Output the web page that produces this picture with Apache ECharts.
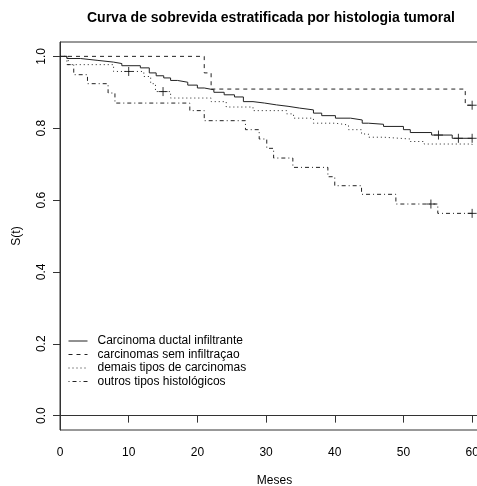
<!DOCTYPE html>
<html>
<head>
<meta charset="utf-8">
<script src="https://cdn.jsdelivr.net/npm/echarts@6/dist/echarts.min.js"></script>
<style>
html,body{margin:0;padding:0;background:#fff;}
#chart{width:477px;height:486px;}
</style>
</head>
<body>
<div id="chart"></div>
<script>
var chartTitle = "Curva de sobrevida estratificada por histologia tumoral";
var groupNames = ["Carcinoma ductal infiltrante", "carcinomas sem infiltraçao", "demais tipos de carcinomas", "outros tipos histológicos"];
var xTicks = [0, 10, 20, 30, 40, 50, 60];
var yTicks = [0, 0.2, 0.4, 0.6, 0.8, 1.0];

var ductalT = [0,1,3,5.4,7.8,9,11.7,13,14,15.1,16.1,17.1,18.6,20,21,22.4,23.9,25.4,26.7,28.1,29.8,31.5,33.2,34.9,36.9,38.1,40.1,42.3,44,44.9,47.1,50,51,54.1,57.1,60];
var ductalS = [1,0.994,0.989,0.984,0.980,0.974,0.968,0.954,0.946,0.940,0.933,0.928,0.920,0.912,0.907,0.900,0.893,0.887,0.874,0.870,0.865,0.861,0.856,0.851,0.842,0.835,0.828,0.823,0.814,0.811,0.805,0.796,0.788,0.781,0.772,0.772];

var semT = [0,21,22,59,60];
var semS = [1,0.954,0.909,0.864,0.864];

var demaisT = [0,1.2,7.8,12.2,13.2,13.9,16.1,22,24.2,28.1,33,34,36.9,40.1,42,43.9,44.9,47.1,51,53,60];
var demaisS = [1,0.977,0.958,0.944,0.924,0.902,0.884,0.874,0.859,0.849,0.840,0.828,0.814,0.809,0.796,0.784,0.775,0.770,0.763,0.756,0.751];

var outrosT = [0,1,2,4,7,8,18.9,21,27,29,30.1,31.1,33.9,39,40,43.9,48.9,55,60];
var outrosS = [1,0.977,0.949,0.924,0.898,0.870,0.849,0.821,0.796,0.770,0.744,0.717,0.691,0.665,0.640,0.616,0.589,0.563,0.563];

var censorT = [[55.1,58,60],[60],[10,15],[54,60]];
var censorS = [[0.781,0.772,0.772],[0.864],[0.958,0.902],[0.589,0.563]];

var dashTypes = ['solid', [4,4], [1,3], [1,3,4,3]];
var allT = [ductalT, semT, demaisT, outrosT];
var allS = [ductalS, semS, demaisS, outrosS];

function zip(a, b){ return a.map(function(v,i){ return [v, b[i]]; }); }

var FONT = "'Liberation Sans', Arial, sans-serif";
var series = [];
groupNames.forEach(function(n, i){
  series.push({
    name: n, type: 'line', step: 'end', showSymbol: false, symbol: 'none',
    data: zip(allT[i], allS[i]), animation: false,
    lineStyle: {color: '#222', width: 1, type: dashTypes[i]},
    itemStyle: {color: '#222'}
  });
});
censorT.forEach(function(ts, i){
  series.push({
    name: 'censor' + i, type: 'scatter', data: zip(ts, censorS[i]), animation: false,
    symbol: 'path://M0,5L10,5M5,0L5,10', symbolSize: 9,
    itemStyle: {color: 'none', borderColor: '#000', borderWidth: 1}
  });
});

var chart = echarts.init(document.getElementById('chart'), null, {renderer: 'canvas'});
chart.setOption({
  backgroundColor: '#fff',
  animation: false,
  title: {
    text: chartTitle, left: 266, textAlign: 'center', top: 6,
    textStyle: {fontFamily: FONT, fontSize: 14, fontWeight: 'bold', color: '#000'}
  },
  grid: {left: 60, top: 42, right: -2, bottom: 56, show: true, borderColor: '#333', borderWidth: 1,
    outerBoundsMode: 'none', containLabel: false},
  legend: {
    data: groupNames, orient: 'vertical', left: 63, top: 330, itemGap: 1.5,
    itemWidth: 19, itemHeight: 12,
    itemStyle: {opacity: 0},
    lineStyle: {inherit: true, width: 1},
    textStyle: {fontFamily: FONT, fontSize: 12, color: '#000', padding: [0,0,0,5]},
    selectedMode: false
  },
  xAxis: {
    type: 'value', min: 0, max: 61,
    name: 'Meses', nameLocation: 'middle', nameGap: 45,
    nameTextStyle: {fontFamily: FONT, fontSize: 12, color: '#000', padding: [0,0,0,10]},
    axisLine: {show: true, lineStyle: {color: '#333'}},
    axisTick: {show: true, length: 7, customValues: xTicks, lineStyle: {color: '#333'}},
    axisLabel: {customValues: xTicks, margin: 17, fontFamily: FONT, fontSize: 12, color: '#000'},
    splitLine: {show: false}
  },
  yAxis: {
    type: 'value', min: -0.04, max: 1.04,
    name: 'S(t)', nameLocation: 'middle', nameGap: 37, nameRotate: 90,
    nameTextStyle: {fontFamily: FONT, fontSize: 12, color: '#000'},
    axisLine: {show: true, onZero: false, lineStyle: {color: '#333'}},
    axisTick: {show: true, length: 7, customValues: yTicks, lineStyle: {color: '#333'}},
    axisLabel: {customValues: yTicks, rotate: 90, margin: 12, fontFamily: FONT, fontSize: 12, color: '#000',
      formatter: function(v){ return v.toFixed(1); }},
    splitLine: {show: false}
  },
  series: series
});
</script>
</body>
</html>
